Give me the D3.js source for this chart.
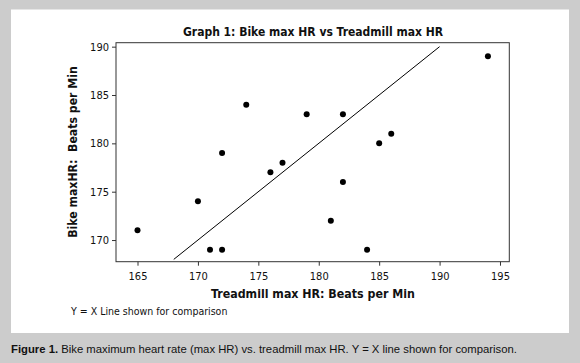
<!DOCTYPE html>
<html><head><meta charset="utf-8">
<script src="https://cdn.jsdelivr.net/npm/d3@7/dist/d3.min.js"></script>
<style>html,body{margin:0;padding:0;background:#cccccc;}</style>
</head><body>
<script>
const treadmillHR = [165,170,171,172,172,174,176,177,179,182,181,182,184,185,186,194];
const bikeHR      = [171,174,169,169,179,184,177,178,183,183,172,176,169,180,181,189];
const xTicks = [165,170,175,180,185,190,195];
const yTicks = [170,175,180,185,190];
const refLine = [[168,168],[190,190]];
const titleText = "Graph 1: Bike max HR vs Treadmill max HR";
const xTitle = "Treadmill max HR: Beats per Min";
const yTitle = "Bike maxHR:  Beats per Min";
const noteText = "Y = X Line shown for comparison";

const W = 580, H = 363;
const svg = d3.select("body").append("svg").attr("width", W).attr("height", H);
svg.append("rect").attr("width", W).attr("height", H).attr("fill", "#cccccc");
svg.append("rect").attr("x", 11).attr("y", 9.5).attr("width", 558).attr("height", 323.5).attr("fill", "#ffffff");

const L = 116, R = 509.3, T = 42.7, B = 261.7;
const x = d3.scaleLinear().domain([163.22, 195.77]).range([L, R]);
const y = d3.scaleLinear().domain([167.76, 190.41]).range([B, T]);
const tickFont = "'DejaVu Sans Condensed', 'DejaVu Sans', sans-serif";

const gx = svg.append("g").attr("transform", `translate(0,${B})`)
  .call(d3.axisBottom(x).tickValues(xTicks).tickSize(4).tickPadding(4).tickSizeOuter(0));
const gy = svg.append("g").attr("transform", `translate(${L},0)`)
  .call(d3.axisLeft(y).tickValues(yTicks).tickSize(4).tickPadding(3).tickSizeOuter(0));
[gx, gy].forEach(g => {
  g.select(".domain").remove();
  g.selectAll("line").attr("stroke", "#333");
  g.selectAll("text").attr("font-family", tickFont).attr("font-size", 11).attr("fill", "#111");
});
gx.selectAll("text").attr("dy", "0.9em");

svg.append("rect").attr("x", L).attr("y", T).attr("width", R - L).attr("height", B - T)
  .attr("fill", "none").attr("stroke", "#333").attr("stroke-width", 1);

svg.append("line")
  .attr("x1", x(refLine[0][0])).attr("y1", y(refLine[0][1]))
  .attr("x2", x(refLine[1][0])).attr("y2", y(refLine[1][1]))
  .attr("stroke", "#000").attr("stroke-width", 1);

svg.append("g").selectAll("circle").data(treadmillHR).join("circle")
  .attr("cx", (d) => x(d)).attr("cy", (d, i) => y(bikeHR[i])).attr("r", 3).attr("fill", "#000");

svg.append("text").attr("x", 313).attr("y", 35.5).attr("text-anchor", "middle")
  .attr("font-family", tickFont).attr("font-weight", "bold").attr("font-size", 12).attr("fill", "#111").text(titleText);
svg.append("text").attr("x", 313).attr("y", 298).attr("text-anchor", "middle")
  .attr("font-family", tickFont).attr("font-weight", "bold").attr("font-size", 12.3).attr("fill", "#111").text(xTitle);
svg.append("text").attr("transform", "translate(77,152) rotate(-90)").attr("text-anchor", "middle")
  .attr("font-family", tickFont).attr("font-weight", "bold").attr("font-size", 12.2).attr("fill", "#111")
  .style("white-space", "pre").text(yTitle);
svg.append("text").attr("x", 71).attr("y", 315).attr("font-family", tickFont).attr("font-size", 10.5).attr("fill", "#111").text(noteText);

const cap = svg.append("text").attr("x", 11).attr("y", 353).attr("font-family", "'Liberation Sans', Arial, sans-serif").attr("font-size", 11.3).attr("fill", "#111");
cap.append("tspan").attr("font-weight", "bold").text("Figure 1.");
cap.append("tspan").text(" Bike maximum heart rate (max HR) vs. treadmill max HR. Y = X line shown for comparison.");
</script>
</body></html>
